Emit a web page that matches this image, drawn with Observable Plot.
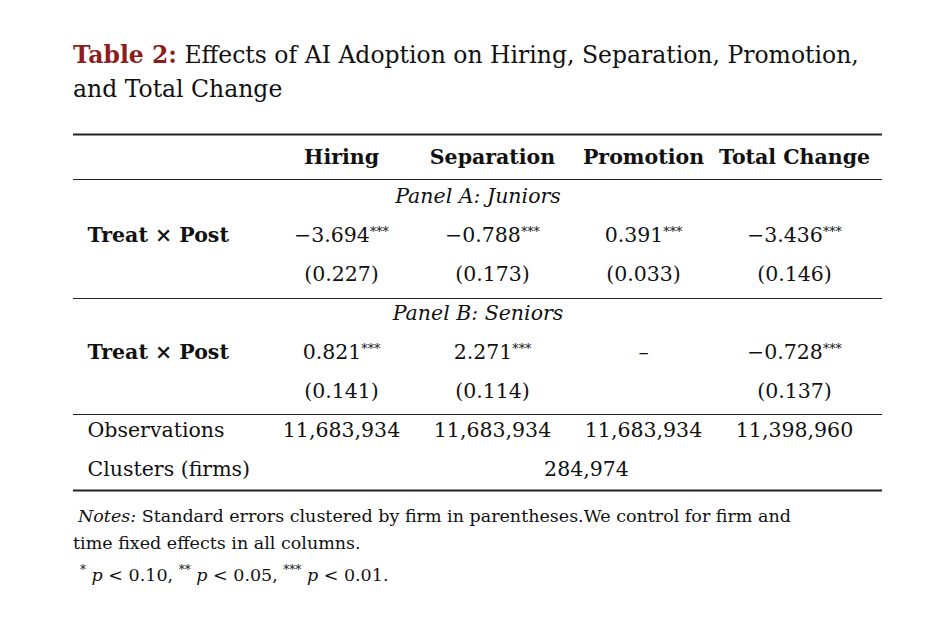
<!DOCTYPE html>
<html>
<head>
<meta charset="utf-8">
<script src="https://cdn.jsdelivr.net/npm/d3@7"></script>
<script src="https://cdn.jsdelivr.net/npm/@observablehq/plot@0.6"></script>
<style>
  body { margin: 0; background: #fff; font-family: "DejaVu Serif", serif; color: #111; }
  #title { position: absolute; left: 73px; top: 38px; width: 860px; font-size: 23.5px; line-height: 34px; z-index: 2; }
  #title b { color: #8b1f1f; }
  #chart { position: absolute; left: 0; top: 100px; }
  #notes { position: absolute; left: 73px; top: 503px; width: 860px; font-size: 17.5px; line-height: 27px; }
  #notes sup { font-size: 12px; }
</style>
</head>
<body>
<div id="title"><b>Table 2:</b> Effects of AI Adoption on Hiring, Separation, Promotion,<br>and Total Change</div>
<div id="chart"></div>
<div id="notes">
  <div style="padding-left:5px"><i>Notes:</i> Standard errors clustered by firm in parentheses.We control for firm and</div>
  <div>time fixed effects in all columns.</div>
  <div style="padding-left:7px"><sup>*</sup> <i>p</i> &lt; 0.10, <sup>**</sup> <i>p</i> &lt; 0.05, <sup>***</sup> <i>p</i> &lt; 0.01.</div>
</div>
<script>
const columns = ["Hiring", "Separation", "Promotion", "Total Change"];
const rows = ["header", "panelA", "coefA", "seA", "panelB", "coefB", "seB", "obs", "clusters"];

const juniorCoef = ["−3.694***", "−0.788***", "0.391***", "−3.436***"];
const juniorSE = ["(0.227)", "(0.173)", "(0.033)", "(0.146)"];
const seniorCoef = ["0.821***", "2.271***", "–", "−0.728***"];
const seniorSE = ["(0.141)", "(0.114)", "", "(0.137)"];
const observations = ["11,683,934", "11,683,934", "11,683,934", "11,398,960"];
const clusters = "284,974";

const panels = [{row: "panelA", text: "Panel A: Juniors"}, {row: "panelB", text: "Panel B: Seniors"}];
const boldLabels = [{row: "coefA", text: "Treat × Post"}, {row: "coefB", text: "Treat × Post"}];
const plainLabels = [{row: "obs", text: "Observations"}, {row: "clusters", text: "Clusters (firms)"}];
const rules = [
  {row: "header", dy: -23, w: 2},
  {row: "header", dy: 22, w: 1},
  {row: "seA", dy: 24, w: 1},
  {row: "seB", dy: 23, w: 1},
  {row: "clusters", dy: 21, w: 2}
];

const cells = [];
columns.forEach((c, i) => {
  cells.push({row: "coefA", col: c, text: juniorCoef[i]});
  cells.push({row: "seA", col: c, text: juniorSE[i]});
  cells.push({row: "coefB", col: c, text: seniorCoef[i]});
  cells.push({row: "seB", col: c, text: seniorSE[i]});
  cells.push({row: "obs", col: c, text: observations[i]});
});

const font = "DejaVu Serif";
const fs = 20.5;

const chart = Plot.plot({
  width: 942,
  height: 400,
  marginTop: 53,
  marginBottom: 28,
  marginLeft: 73,
  marginRight: 60,
  style: {fontFamily: font, color: "#111", background: "transparent"},
  x: {type: "point", domain: columns, range: [340, 795], padding: 0, axis: null},
  y: {type: "point", domain: rows, padding: 0, axis: null},
  marks: [
    ...rules.map(r => Plot.ruleY([r], {y: "row", dy: r.dy, stroke: "#222", strokeWidth: r.w})),
    Plot.text(columns, {x: d => d, y: () => "header", text: d => d, fontSize: fs, fontWeight: "bold"}),
    Plot.text(panels, {y: "row", text: "text", frameAnchor: "middle", fontSize: fs, fontStyle: "italic"}),
    Plot.text(boldLabels, {y: "row", text: "text", frameAnchor: "left", textAnchor: "start", dx: 14, fontSize: fs, fontWeight: "bold"}),
    Plot.text(plainLabels, {y: "row", text: "text", frameAnchor: "left", textAnchor: "start", dx: 14, fontSize: fs}),
    Plot.text(cells, {x: "col", y: "row", text: "text", fontSize: fs, className: "cell"}),
    Plot.text([clusters], {x: () => "Separation", y: () => "clusters", text: d => d, dx: 94, fontSize: fs})
  ]
});

// turn trailing stars into superscripts
d3.select(chart).selectAll(".cell text").each(function() {
  const t = this.textContent;
  const m = t.match(/^(.*?)(\*+)$/);
  if (!m) return;
  const el = d3.select(this);
  el.text(null);
  el.append("tspan").text(m[1]);
  el.append("tspan").attr("dy", "-0.45em").attr("font-size", "0.62em").text(m[2]);
});

d3.select("#chart").append(() => chart);
</script>
</body>
</html>
